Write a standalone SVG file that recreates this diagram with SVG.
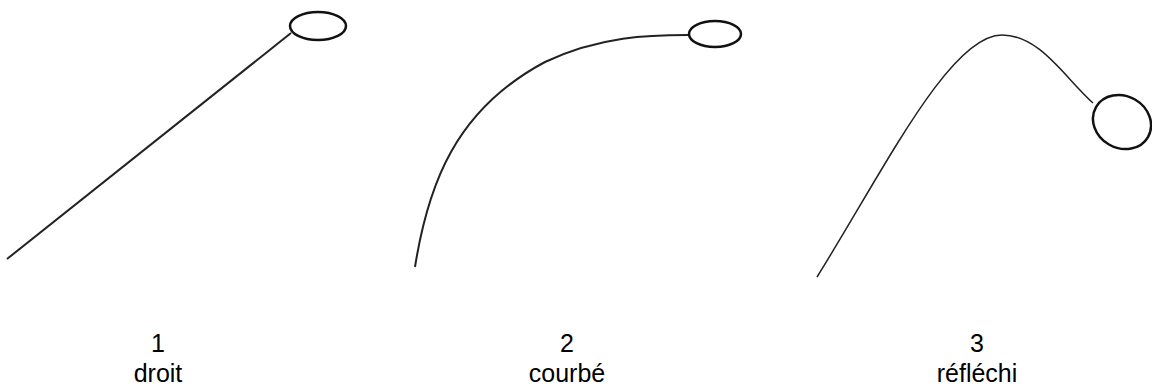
<svg xmlns="http://www.w3.org/2000/svg" width="1152" height="387" viewBox="0 0 1152 387">
<style>
.w{fill:none;stroke:#222;stroke-width:2}
.e{fill:none;stroke:#111;stroke-width:2.5}
.t{font-family:"Liberation Sans",Arial,sans-serif;font-size:25px;fill:#000;text-anchor:middle}
</style>
<rect width="1152" height="387" fill="#fff"/>
<g id="connectors">
<path class="w" d="M7,259 L291,33"/>
<path class="w" d="M415,267 C428,185 455,110 545,62 C600,36 650,35 688,35"/>
<path class="w" style="stroke-width:1.5" d="M817,277 C885,168 950,35 1002,35 C1040,35 1065,78 1093,103"/>
</g>
<g id="node1">
<ellipse class="e" cx="318" cy="26" rx="28" ry="14"/>
<text class="t" x="158" y="352">1</text>
<text class="t" x="158" y="382">droit</text>
</g>
<g id="node2">
<ellipse class="e" cx="715" cy="34" rx="26" ry="13"/>
<text class="t" x="567" y="352">2</text>
<text class="t" x="567" y="382">courbé</text>
</g>
<g id="node3">
<ellipse class="e" cx="1122" cy="122" rx="30" ry="26" transform="rotate(30 1122 122)"/>
<text class="t" x="977" y="352">3</text>
<text class="t" x="977" y="382">réfléchi</text>
</g>
</svg>
